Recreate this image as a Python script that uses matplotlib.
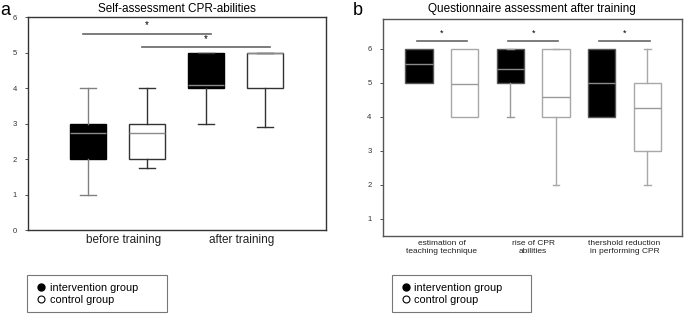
import matplotlib
matplotlib.use('Agg')
import matplotlib.pyplot as plt
from matplotlib.lines import Line2D

plt.rcParams['font.family'] = ['Liberation Sans', 'DejaVu Sans']

# panel a: self-assessment, box stats as (whislo, q1, median, q3, whishi)
a_groups = ['before training', 'after training']
a_int = [(1.0, 2.0, 2.75, 3.0, 4.0), (3.0, 4.0, 4.1, 5.0, 5.0)]
a_ctl = [(1.75, 2.0, 2.75, 3.0, 4.0), (2.9, 4.0, 5.0, 5.0, 5.0)]
a_sig_pairs = [(1, 3), (2, 4)]
a_sig_y = [5.54, 5.16]

# panel b: questionnaire after training
b_groups = ['estimation of\nteaching technique', 'rise of CPR\nabilities',
            'thershold reduction\nin performing CPR']
b_int = [(5.0, 5.0, 5.55, 6.0, 6.0), (4.0, 5.0, 5.4, 6.0, 6.0), (4.0, 4.0, 5.0, 6.0, 6.0)]
b_ctl = [(4.0, 4.0, 4.97, 6.0, 6.0), (2.0, 4.0, 4.57, 6.0, 6.0), (2.0, 3.0, 4.25, 5.0, 6.0)]
b_sig_y = 6.24

legend_labels = ['intervention group', 'control group']


def draw_box(ax, pos, st, width, face, edge, med, whisk, capw):
    lo, q1, m, q3, hi = st
    ax.bxp([dict(whislo=lo, q1=q1, med=m, q3=q3, whishi=hi, fliers=[])],
           positions=[pos], widths=width, patch_artist=True,
           showcaps=(lo < q1 or hi > q3), capwidths=capw, manage_ticks=False,
           boxprops=dict(facecolor=face, edgecolor=edge, linewidth=1.0),
           medianprops=dict(color=med, linewidth=1.0),
           whiskerprops=dict(color=whisk, linewidth=1.0),
           capprops=dict(color=whisk, linewidth=1.0))


def style_axes(ax, edge):
    for s in ax.spines.values():
        s.set_color(edge)
        s.set_linewidth(1.0)
    ax.tick_params(axis='y', length=2, width=0.6, labelsize=5.5, pad=6, colors='#333333')
    ax.tick_params(axis='x', length=0, colors='#222222')


fig = plt.figure(figsize=(6.85, 3.14), dpi=100)

# ---- panel a
ax1 = fig.add_axes([0.0409, 0.2675, 0.435, 0.6768])
for i, (si, sc) in enumerate(zip(a_int, a_ctl)):
    p = 1 + 2 * i
    draw_box(ax1, p, si, 0.61, 'black', 'black', '#8a8a8a',
             '#808080' if i == 0 else '#333333', 0.28)
    draw_box(ax1, p + 1, sc, 0.61, 'white', '#333333', '#8a8a8a', '#333333', 0.28)
for (p0, p1), y in zip(a_sig_pairs, a_sig_y):
    ax1.plot([p0 - 0.08, p1 + 0.08], [y, y], color='#666666', lw=1.2)
    ax1.text((p0 + p1) / 2, y + 0.1, '*', ha='center', va='bottom', fontsize=7)
ax1.set_xlim(-0.02, 5.03)
ax1.set_ylim(0, 6)
ax1.set_yticks(range(0, 7))
ax1.set_xticks([1.6, 3.6])
ax1.set_xticklabels(a_groups, fontsize=8.5)
style_axes(ax1, '#333333')
ax1.tick_params(axis='x', pad=3)
ax1.set_title('Self-assessment CPR-abilities', fontsize=8.5, pad=4)
fig.text(0.0, 0.995, 'a', fontsize=13, va='top', ha='left')

# ---- panel b
ax2 = fig.add_axes([0.5587, 0.2494, 0.4365, 0.690])
for i, (si, sc) in enumerate(zip(b_int, b_ctl)):
    p = 1 + 2 * i
    draw_box(ax2, p, si, 0.6, 'black', '#555555', '#8a8a8a', '#9a9a9a', 0.15)
    draw_box(ax2, p + 1, sc, 0.6, 'white', '#a8a8a8', '#9a9a9a', '#a8a8a8', 0.15)
    ax2.plot([p - 0.05, p + 1.05], [b_sig_y, b_sig_y], color='#666666', lw=1.2)
    ax2.text(p + 0.5, b_sig_y + 0.08, '*', ha='center', va='bottom', fontsize=6.5)
ax2.set_xlim(0.21, 6.75)
ax2.set_ylim(0.5, 6.88)
ax2.set_yticks(range(1, 7))
ax2.set_xticks([1.5, 3.5, 5.5])
ax2.set_xticklabels(b_groups, fontsize=6, linespacing=1.3)
style_axes(ax2, '#555555')
ax2.tick_params(axis='x', pad=3)
ax2.set_title('Questionnaire assessment after training', fontsize=8.5, pad=5)
fig.text(0.515, 0.995, 'b', fontsize=13, va='top', ha='left')

# ---- legends
handles = [Line2D([], [], ls='none', marker='o', ms=5, mfc='black', mec='black'),
           Line2D([], [], ls='none', marker='o', ms=5, mfc='white', mec='black', mew=0.8)]
for x0 in (0.0394, 0.5718):
    leg = fig.legend(handles, legend_labels, loc='upper left',
                     bbox_to_anchor=(x0, 0.003, 0.204, 0.121), mode='expand',
                     fontsize=7.8, handlelength=1.2, handletextpad=0.2,
                     labelspacing=0.2, borderpad=0.7, borderaxespad=0,
                     fancybox=False, frameon=True)
    leg.get_frame().set_edgecolor('#555555')
    leg.get_frame().set_linewidth(0.8)

fig.savefig('out.png', dpi=100)
